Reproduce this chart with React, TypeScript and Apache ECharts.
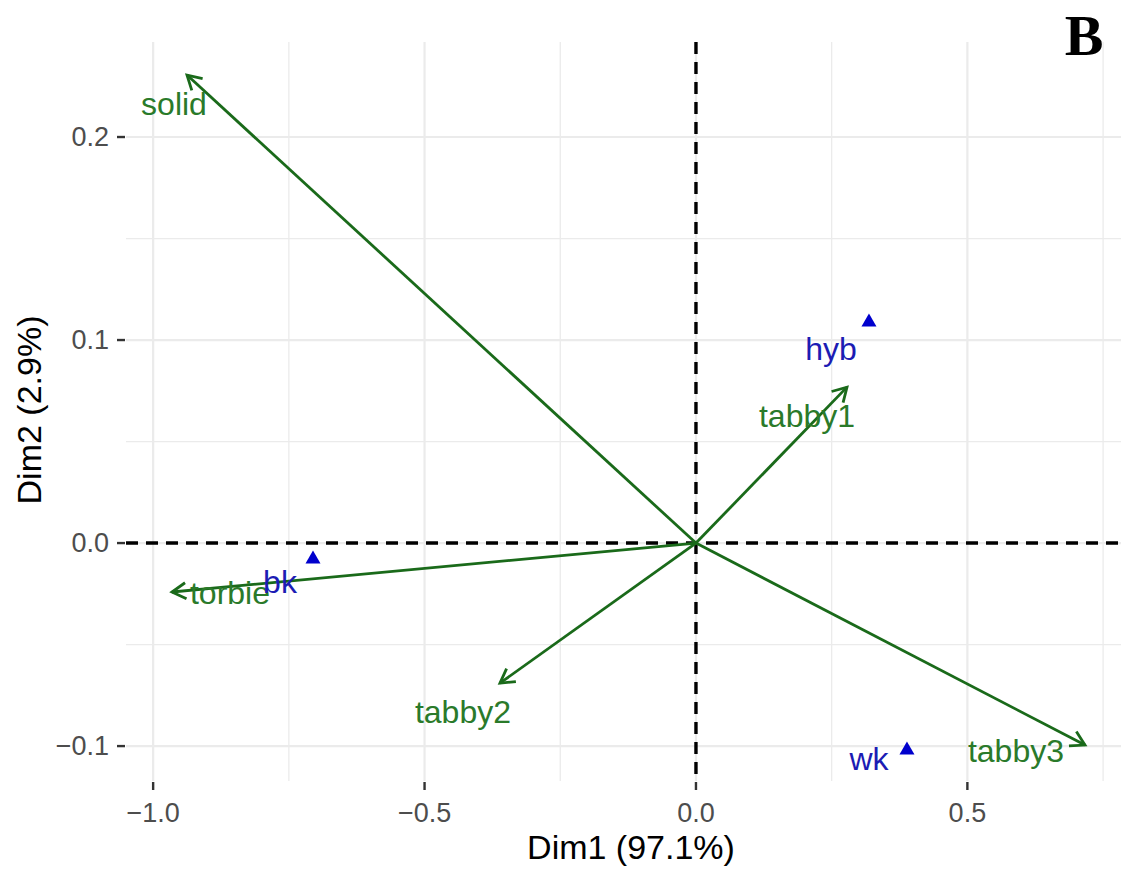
import React, { useEffect, useRef } from "react";
import * as echarts from "echarts";

// ---- data ----
const varNames = ["solid", "torbie", "tabby2", "tabby1", "tabby3"];
const varDim1 = [-0.9376, -0.9653, -0.3611, 0.2782, 0.7166];
const varDim2 = [0.2305, -0.0241, -0.069, 0.0768, -0.0995];

const indNames = ["hyb", "bk", "wk"];
const indDim1 = [0.3187, -0.7055, 0.3887];
const indDim2 = [0.1099, -0.0069, -0.101];

const xTicks = [-1.0, -0.5, 0.0, 0.5];
const yTicks = [-0.1, 0.0, 0.1, 0.2];
const xMinor = [-0.75, -0.25, 0.25, 0.75];
const yMinor = [-0.05, 0.05, 0.15];

const xTitle = "Dim1 (97.1%)";
const yTitle = "Dim2 (2.9%)";
const panelTag = "B";

// ---- styling (pixel offsets of labels from their marks) ----
const varLabelOffsets: number[][] = [
  [-13, 29],
  [58, 1],
  [-37, 29],
  [-40, 29],
  [-69, 6],
];
const indLabelOffsets: number[][] = [
  [-38, 29],
  [-33, 25],
  [-38, 11],
];

const FONT = '"Liberation Sans", Arial, sans-serif';
const GREEN_LINE = "#1A6A1A";
const GREEN_TEXT = "#2A7A2A";
const BLUE = "#0000CD";
const BLUE_TEXT = "#1C1CB4";
const TICK_LEN = 8;

const fmt = (v: number) => {
  const a = Math.abs(v).toFixed(1);
  return v < -1e-9 ? "\u2212" + a : a;
};

export default function App() {
  const ref = useRef<HTMLDivElement>(null);

  useEffect(() => {
    if (!ref.current) return;
    const chart = echarts.init(ref.current, undefined, { renderer: "svg" });

    const labelStyle = {
      formatter: (v: number) => fmt(v),
      fontSize: 27,
      fontFamily: FONT,
      color: "#4D4D4D",
    };

    const option: any = {
      animation: false,
      backgroundColor: "#ffffff",
      grid: { left: 126, right: 0, top: 42, bottom: 89, containLabel: false },
      xAxis: {
        type: "value",
        min: -1.05,
        max: 0.783,
        axisLine: { show: false, onZero: false },
        splitLine: { show: false },
        axisTick: { show: false },
        axisLabel: { ...labelStyle, customValues: xTicks, margin: 18 },
      },
      yAxis: {
        type: "value",
        min: -0.1172,
        max: 0.2468,
        axisLine: { show: false, onZero: false },
        splitLine: { show: false },
        axisTick: { show: false },
        axisLabel: { ...labelStyle, customValues: yTicks, margin: 17 },
      },
      graphic: [
        {
          type: "text",
          x: 631,
          y: 847,
          style: {
            text: xTitle,
            fontSize: 34,
            fontFamily: FONT,
            fill: "#000000",
            align: "center",
            verticalAlign: "middle",
          },
        },
        {
          type: "text",
          x: 29,
          y: 410,
          rotation: Math.PI / 2,
          style: {
            text: yTitle,
            fontSize: 34,
            fontFamily: FONT,
            fill: "#000000",
            align: "center",
            verticalAlign: "middle",
          },
        },
        {
          type: "text",
          x: 1084,
          y: 35,
          style: {
            text: panelTag,
            fontSize: 58,
            fontWeight: "bold",
            fontFamily: '"Liberation Serif", "Times New Roman", serif',
            fill: "#000000",
            align: "center",
            verticalAlign: "middle",
          },
        },
      ],
      series: [
        {
          // grid lines and dashed reference lines
          type: "custom",
          z: 1,
          silent: true,
          clip: true,
          data: [[0, 0]],
          renderItem: (params: any, api: any) => {
            const cs = params.coordSys;
            const children: any[] = [];
            const vline = (v: number, w: number) => {
              const p = api.coord([v, 0]);
              children.push({
                type: "line",
                shape: { x1: p[0], y1: cs.y, x2: p[0], y2: cs.y + cs.height },
                style: { stroke: "#EBEBEB", lineWidth: w },
              });
            };
            const hline = (v: number, w: number) => {
              const p = api.coord([0, v]);
              children.push({
                type: "line",
                shape: { x1: cs.x, y1: p[1], x2: cs.x + cs.width, y2: p[1] },
                style: { stroke: "#EBEBEB", lineWidth: w },
              });
            };
            xMinor.forEach((v) => vline(v, 1.3));
            yMinor.forEach((v) => hline(v, 1.3));
            xTicks.forEach((v) => vline(v, 2.2));
            yTicks.forEach((v) => hline(v, 2.2));
            const o = api.coord([0, 0]);
            children.push({
              type: "line",
              shape: { x1: o[0], y1: cs.y, x2: o[0], y2: cs.y + cs.height },
              style: { stroke: "#000000", lineWidth: 3.4, lineDash: [12, 8] },
            });
            children.push({
              type: "line",
              shape: { x1: cs.x, y1: o[1], x2: cs.x + cs.width, y2: o[1] },
              style: { stroke: "#000000", lineWidth: 3.4, lineDash: [12, 8] },
            });
            return { type: "group", children };
          },
        },
        {
          // axis tick marks (outside the panel)
          type: "custom",
          z: 2,
          silent: true,
          clip: false,
          data: [[0, 0]],
          renderItem: (params: any, api: any) => {
            const cs = params.coordSys;
            const children: any[] = [];
            xTicks.forEach((v) => {
              const p = api.coord([v, 0]);
              children.push({
                type: "line",
                shape: { x1: p[0], y1: cs.y + cs.height + 1, x2: p[0], y2: cs.y + cs.height + 1 + TICK_LEN },
                style: { stroke: "#333333", lineWidth: 2.4 },
              });
            });
            yTicks.forEach((v) => {
              const p = api.coord([0, v]);
              children.push({
                type: "line",
                shape: { x1: cs.x - 1 - TICK_LEN, y1: p[1], x2: cs.x - 1, y2: p[1] },
                style: { stroke: "#333333", lineWidth: 2.4 },
              });
            });
            return { type: "group", children };
          },
        },
        {
          // variable arrows
          type: "custom",
          z: 3,
          silent: true,
          clip: false,
          data: varDim1.map((x, i) => [x, varDim2[i], i]),
          renderItem: (params: any, api: any) => {
            const i = api.value(2);
            const o = api.coord([0, 0]);
            const t = api.coord([api.value(0), api.value(1)]);
            const ang = Math.atan2(t[1] - o[1], t[0] - o[0]);
            const L = 16;
            const a = Math.PI / 6;
            const p1 = [t[0] - L * Math.cos(ang - a), t[1] - L * Math.sin(ang - a)];
            const p2 = [t[0] - L * Math.cos(ang + a), t[1] - L * Math.sin(ang + a)];
            const off = varLabelOffsets[i];
            return {
              type: "group",
              children: [
                {
                  type: "line",
                  shape: { x1: o[0], y1: o[1], x2: t[0], y2: t[1] },
                  style: { stroke: GREEN_LINE, lineWidth: 2.8 },
                },
                {
                  type: "polyline",
                  shape: { points: [p1, t, p2] },
                  style: { stroke: GREEN_LINE, lineWidth: 2.8, fill: null },
                },
                {
                  type: "text",
                  x: t[0] + off[0],
                  y: t[1] + off[1],
                  style: {
                    text: varNames[i],
                    fontSize: 32,
                    fontFamily: FONT,
                    fill: GREEN_TEXT,
                    align: "center",
                    verticalAlign: "middle",
                  },
                },
              ],
            };
          },
        },
        {
          type: "scatter",
          z: 4,
          silent: true,
          symbol: "triangle",
          symbolSize: [15, 13],
          itemStyle: { color: BLUE, opacity: 1 },
          data: indDim1.map((x, i) => [x, indDim2[i]]),
          label: {
            show: true,
            position: "inside",
            formatter: (p: any) => indNames[p.dataIndex],
            fontSize: 32,
            fontFamily: FONT,
            color: BLUE_TEXT,
            opacity: 1,
          },
          labelLayout: (p: any) => {
            const off = indLabelOffsets[p.dataIndex];
            return { dx: off[0], dy: off[1] };
          },
        },
      ],
    };

    chart.setOption(option);
    return () => chart.dispose();
  }, []);

  return (
    <div
      ref={ref}
      style={{ position: "absolute", left: 0, top: 0, width: 1121, height: 870, background: "#fff" }}
    />
  );
}
